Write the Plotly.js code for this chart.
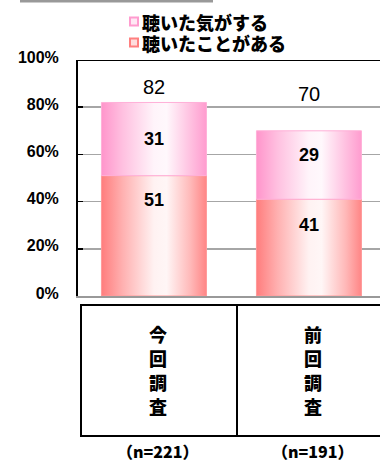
<!DOCTYPE html>
<html>
<head>
<meta charset="utf-8">
<script src="https://cdn.plot.ly/plotly-3.0.1.min.js"></script>
<style>
  html, body { margin: 0; padding: 0; background: #fff; overflow: hidden; }
  #chart { width: 380px; height: 462px; }
</style>
</head>
<body>
<div id="chart"></div>
<script>
// ---- data ----
const categories = ['今回調査', '前回調査'];
const sampleSizes = ['（n=221）', '（n=191）'];
const heardIt = [51, 41];        // 聴いたことがある
const heardMaybe = [31, 29];     // 聴いた気がする
const totals = [82, 70];
const seriesNames = ['聴いた気がする', '聴いたことがある'];
const yTickVals = [0, 20, 40, 60, 80, 100];

// ---- style constants ----
const W = 380, H = 462;
const M = { l: 78, r: 0, t: 60, b: 166 };
const PW = W - M.l - M.r, PH = H - M.t - M.b;
const PX_PER_CAT = 155;
const BAR_W = 105 / PX_PER_CAT;
const CJK = '"Noto Sans CJK JP", "Noto Sans CJK SC", sans-serif';
const LAT = '"Liberation Sans", Arial, sans-serif';
const px = x => (x - M.l) / PW;          // pixel -> paper x
const py = y => (H - M.b - y) / PH;       // pixel -> paper y
const xr0 = -0.49, xr1 = xr0 + PW / PX_PER_CAT;

// label vertical offsets (px) to match reference placement
const bottomLabelShift = [36, 23];
const topLabelShift = [0, 10];
const totalShift = [15.5, 37];
const charRows = [334, 358, 382, 406];   // pixel rows of the vertical category characters

const gradBottom = [[0, '#ff7d7d'], [0.2, '#ffb0b0'], [0.5, '#fff2f2'], [0.62, '#fff6f6'], [0.85, '#ffb8b8'], [1, '#ff8585']];
const gradTop = [[0, '#ff95cb'], [0.2, '#ffc0e0'], [0.5, '#fff4fa'], [0.62, '#fff8fc'], [0.85, '#ffc0e0'], [1, '#ff9ccf']];

const traces = [];
function rectTrace(i, base, val, grad, edge) {
  const c = i, x0 = c - BAR_W / 2, x1 = c + BAR_W / 2;
  return {
    type: 'scatter', mode: 'lines',
    x: [x0, x1, x1, x0, x0],
    y: [base, base, base + val, base + val, base],
    fill: 'toself',
    fillgradient: { type: 'horizontal', colorscale: grad },
    line: { width: 1, color: edge },
    showlegend: false, hoverinfo: 'skip'
  };
}
categories.forEach((cat, i) => {
  traces.push(rectTrace(i, 0, heardIt[i], gradBottom, '#ff9a9a'));
  traces.push(rectTrace(i, heardIt[i], heardMaybe[i], gradTop, '#ffb0d8'));
});

const annotations = [];
categories.forEach((cat, i) => {
  annotations.push({ xref: 'x', yref: 'y', x: i, y: heardIt[i] / 2, yshift: bottomLabelShift[i],
    text: String(heardIt[i]), showarrow: false, font: { family: LAT, size: 18, color: '#000', weight: 'bold' } });
  annotations.push({ xref: 'x', yref: 'y', x: i, y: heardIt[i] + heardMaybe[i] / 2, yshift: topLabelShift[i],
    text: String(heardMaybe[i]), showarrow: false, font: { family: LAT, size: 18, color: '#000', weight: 'bold' } });
  annotations.push({ xref: 'x', yref: 'y', x: i, y: totals[i], yshift: totalShift[i], yanchor: 'middle',
    text: String(totals[i]), showarrow: false, font: { family: LAT, size: 20, color: '#000' } });
  cat.split('').forEach((ch, k) => {
    annotations.push({ xref: 'x', yref: 'paper', x: i, xshift: 4.5, y: py(charRows[k]), yanchor: 'middle',
      text: ch, showarrow: false, borderpad: 0, font: { family: CJK, size: 18, color: '#000', weight: 900 } });
  });
  annotations.push({ xref: 'x', yref: 'paper', x: i, xshift: 4.5, y: py(451), yanchor: 'middle',
    text: sampleSizes[i], showarrow: false, borderpad: 0, font: { family: CJK, size: 16, color: '#000', weight: 900 } });
});
// legend text
seriesNames.forEach((n, k) => {
  annotations.push({ xref: 'paper', yref: 'paper', x: px(141), y: py(k === 0 ? 22 : 43), xanchor: 'left', yanchor: 'middle',
    text: n, showarrow: false, borderpad: 0, font: { family: CJK, size: 18, color: '#000', weight: 900 } });
});

const shapes = [
  // gray bar at top
  { type: 'rect', xref: 'paper', yref: 'paper', x0: px(20), x1: px(213), y0: py(0), y1: py(2.5), fillcolor: '#999', line: { width: 0 } },
  // top border of plot
  { type: 'line', xref: 'paper', yref: 'y', x0: 0, x1: 1, y0: 100, y1: 100, line: { color: '#000', width: 2 } },
  // table box
  { type: 'rect', xref: 'paper', yref: 'paper', x0: px(81), x1: px(392), y0: py(305), y1: py(436), line: { color: '#000', width: 2 } },
  { type: 'line', xref: 'paper', yref: 'paper', x0: px(237), x1: px(237), y0: py(305), y1: py(436), line: { color: '#000', width: 2 } },
  // legend markers
  { type: 'rect', xref: 'paper', yref: 'paper', x0: px(130), x1: px(138), y0: py(17.5), y1: py(25.5), fillcolor: '#ffe8f4', line: { color: '#ff9ccf', width: 2 } },
  { type: 'rect', xref: 'paper', yref: 'paper', x0: px(130), x1: px(138), y0: py(38.5), y1: py(46.5), fillcolor: '#ffdede', line: { color: '#ff8080', width: 2 } }
];

const layout = {
  width: W, height: H,
  margin: M,
  paper_bgcolor: '#fff', plot_bgcolor: '#fff',
  showlegend: false,
  xaxis: {
    range: [xr0, xr1], showticklabels: false, showgrid: false, zeroline: false,
    showline: true, linecolor: '#999', linewidth: 2, ticks: '', fixedrange: true
  },
  yaxis: {
    range: [0, 100], tickvals: yTickVals, ticktext: yTickVals.map(v => v + '%'),
    showgrid: true, gridcolor: '#a6a6a6', gridwidth: 1.5, zeroline: false,
    showline: true, linecolor: '#000', linewidth: 2,
    ticks: 'inside', ticklen: 5, tickcolor: '#000', tickwidth: 1.5,
    ticklabelstandoff: 14, ticklabelshift: -3,
    tickfont: { family: LAT, size: 16, color: '#000', weight: 'bold' }, fixedrange: true
  },
  shapes: shapes,
  annotations: annotations
};

Plotly.newPlot('chart', traces, layout, { staticPlot: true, displayModeBar: false });
</script>
</body>
</html>
